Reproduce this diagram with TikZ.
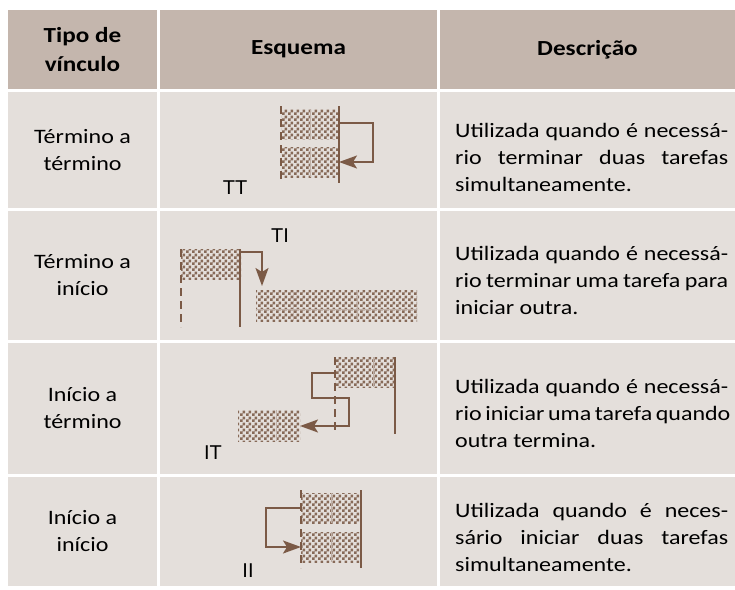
\documentclass[tikz,border=0pt]{standalone}
\usepackage{fontspec}
\setmainfont[FakeStretch=1.17]{Carlito}
\newfontfamily\lblfont{Liberation Sans}
\usetikzlibrary{patterns,arrows.meta}
\pgfdeclarepatternformonly{chk}{\pgfpointorigin}{\pgfqpoint{6pt}{6pt}}{\pgfqpoint{6pt}{6pt}}{%
 \pgfpathrectangle{\pgfpointorigin}{\pgfqpoint{3pt}{3pt}}%
 \pgfpathrectangle{\pgfqpoint{3pt}{3pt}}{\pgfqpoint{3pt}{3pt}}%
 \pgfusepath{fill}}
\definecolor{hdr}{HTML}{C4B6AD}
\definecolor{cellc}{HTML}{E4DFDB}
\definecolor{lnk}{HTML}{7B5A46}
\definecolor{chkc}{HTML}{876A58}
\newcommand\jl[1]{\makebox[273pt][s]{#1}}
\tikzset{
  hcell/.style={fill=hdr, inner sep=0pt, align=center, font=\fontsize{21.5}{29}\selectfont\bfseries},
  bcell/.style={fill=cellc, inner sep=0pt, align=center, font=\fontsize{20.5}{27}\selectfont},
  desc/.style={inner sep=0pt, align=left, anchor=west, font=\fontsize{20.5}{27}\selectfont},
  bar/.style={pattern=chk, pattern color=chkc, inner sep=0pt, anchor=north west},
  seam/.style={draw=cellc!60!chkc, line width=0.8pt},
  solidln/.style={draw=lnk, line width=1.6pt},
  dashln/.style={draw=lnk, line width=1.6pt, dash pattern=on 8pt off 5pt},
  link/.style={draw=lnk, line width=1.8pt, -{Stealth[length=18pt,width=13pt,inset=4pt]}},
  lbl/.style={inner sep=0pt, font=\lblfont\fontsize{20}{24}\selectfont}
}
\begin{document}
\begin{tikzpicture}[x=1pt,y=-1pt]
\useasboundingbox (0,0) rectangle (735,589);
% header
\node[hcell, minimum width=149pt, minimum height=79pt] (h1) at (82.5,49.5) {Tipo de\\vínculo};
\node[hcell, minimum width=277pt, minimum height=79pt] (h2) at (298.5,49.5) {Esquema};
\node[hcell, minimum width=295pt, minimum height=79pt] (h3) at (587.5,49.5) {Descrição};
% row cells
\node[bcell, minimum width=149pt, minimum height=116pt] (r1a) at (82.5,150) {Término a\\término};
\node[bcell, minimum width=277pt, minimum height=116pt] (r1b) at (298.5,150) {};
\node[bcell, minimum width=295pt, minimum height=116pt] (r1c) at (587.5,150) {};
\node[bcell, minimum width=149pt, minimum height=128.5pt] (r2a) at (82.5,275.25) {Término a\\início};
\node[bcell, minimum width=277pt, minimum height=128.5pt] (r2b) at (298.5,275.25) {};
\node[bcell, minimum width=295pt, minimum height=128.5pt] (r2c) at (587.5,275.25) {};
\node[bcell, minimum width=149pt, minimum height=131.5pt] (r3a) at (82.5,408.25) {Início a\\término};
\node[bcell, minimum width=277pt, minimum height=131.5pt] (r3b) at (298.5,408.25) {};
\node[bcell, minimum width=295pt, minimum height=131.5pt] (r3c) at (587.5,408.25) {};
\node[bcell, minimum width=149pt, minimum height=109pt] (r4a) at (82.5,531.5) {Início a\\início};
\node[bcell, minimum width=277pt, minimum height=109pt] (r4b) at (298.5,531.5) {};
\node[bcell, minimum width=295pt, minimum height=109pt] (r4c) at (587.5,531.5) {};
% descriptions
\node[desc] (d1) at (455,157) {\jl{Utilizada quando é necessá-}\\\jl{rio terminar duas tarefas}\\simultaneamente.};
\node[desc] (d2) at (455,280) {\jl{Utilizada quando é necessá-}\\\jl{rio terminar uma tarefa para}\\iniciar outra.};
\node[desc] (d3) at (455,413) {\jl{Utilizada quando é necessá-}\\\jl{rio iniciar uma tarefa quando}\\outra termina.};
\node[desc] (d4) at (455,537) {\jl{Utilizada quando é neces-}\\\jl{sário iniciar duas tarefas}\\simultaneamente.};

% ---- Row 1: TT
\node[bar, minimum width=58pt, minimum height=30pt] (a1) at (281,109) {};
\node[bar, minimum width=58pt, minimum height=30pt] (a2) at (281,147) {};
\draw[seam] (a1.north) -- (a1.south);
\draw[seam] (a2.north) -- (a2.south);
\coordinate (a3) at (281,106); \coordinate (a4) at (281,183);
\coordinate (a5) at (339,106); \coordinate (a6) at (339,183);
\draw[dashln] (a3) -- (a4);
\draw[solidln] (a5) -- (a6);
\coordinate (a7) at (339,123); \coordinate (a8) at (373,123);
\coordinate (a9) at (373,162); \coordinate (a10) at (339,162);
\draw[link] (a7) -- (a8) -- (a9) -- (a10);
\node[lbl] (tt) at (235,188) {TT};

% ---- Row 2: TI
\node[bar, minimum width=60pt, minimum height=30pt] (b1) at (181,249) {};
\node[bar, minimum width=161pt, minimum height=31pt] (b2) at (256,290) {};
\coordinate (b2s1) at (293,290); \coordinate (b2s2) at (293,321);
\coordinate (b2s3) at (357,290); \coordinate (b2s4) at (357,321);
\draw[seam] (b2s1) -- (b2s2);
\draw[seam] (b2s3) -- (b2s4);
\draw[seam] (b2.west) ++(0,4) -- ([yshift=-4pt]b2.east);
\coordinate (b3) at (181,249); \coordinate (b4) at (181,327);
\coordinate (b5) at (240,249); \coordinate (b6) at (240,327);
\draw[dashln] (b3) -- (b4);
\draw[solidln] (b5) -- (b6);
\coordinate (b7) at (240,252); \coordinate (b8) at (262,252); \coordinate (b9) at (262,286);
\draw[link] (b7) -- (b8) -- (b9);
\node[lbl] (ti) at (280,236) {TI};

% ---- Row 3: IT
\node[bar, minimum width=60pt, minimum height=30pt] (c1) at (335,357) {};
\node[bar, minimum width=62pt, minimum height=31pt] (c2) at (238,410) {};
\draw[seam] (c1.north) ++(8,0) -- ([xshift=8pt]c1.south);
\draw[seam] (c2.north) ++(7,0) -- ([xshift=7pt]c2.south);
\coordinate (c3) at (335,357); \coordinate (c4) at (335,434);
\coordinate (c5) at (395,357); \coordinate (c6) at (395,434);
\draw[dashln] (c3) -- (c4);
\draw[solidln] (c5) -- (c6);
\coordinate (c7) at (335,373); \coordinate (c8) at (312,373);
\coordinate (c9) at (312,398); \coordinate (c10) at (349,398);
\coordinate (c11) at (349,426); \coordinate (c12) at (300,426);
\draw[link] (c7) -- (c8) -- (c9) -- (c10) -- (c11) -- (c12);
\node[lbl] (it) at (213,453) {IT};

% ---- Row 4: II
\node[bar, minimum width=60pt, minimum height=30pt] (e1) at (301,493) {};
\node[bar, minimum width=60pt, minimum height=30pt] (e2) at (301,532) {};
\draw[seam] (e1.north) -- (e1.south);
\draw[seam] (e2.north) -- (e2.south);
\coordinate (e3) at (301,490); \coordinate (e4) at (301,568);
\coordinate (e5) at (361,490); \coordinate (e6) at (361,568);
\draw[dashln] (e3) -- (e4);
\draw[solidln] (e5) -- (e6);
\coordinate (e7) at (301,508); \coordinate (e8) at (266,508);
\coordinate (e9) at (266,547); \coordinate (e10) at (301,547);
\draw[link] (e7) -- (e8) -- (e9) -- (e10);
\node[lbl] (ii) at (248,571) {II};
\end{tikzpicture}
\end{document}
